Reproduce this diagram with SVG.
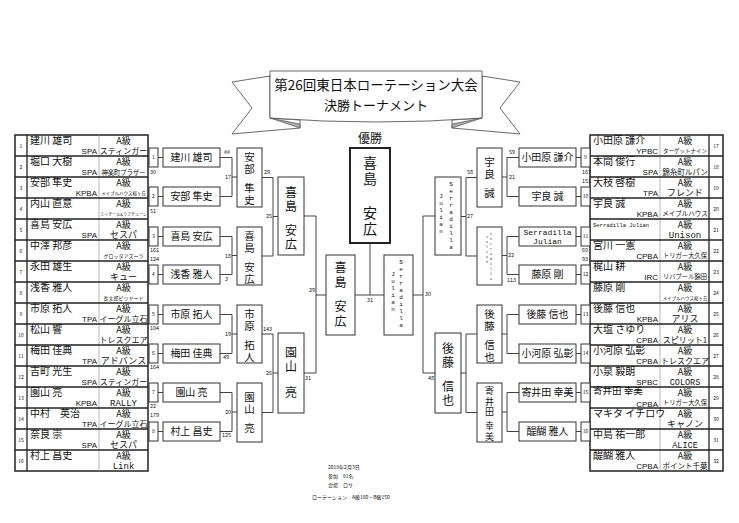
<svg xmlns="http://www.w3.org/2000/svg" width="739" height="523" viewBox="0 0 739 523">
<defs>
<style>
text{font-family:"Noto Sans CJK JP","Liberation Sans",sans-serif;fill:#111}
.nm{font-size:10px}
.cl{font-size:9px;text-anchor:middle}
.af{font-size:8px;text-anchor:end;font-family:"Liberation Sans Narrow","Liberation Sans",sans-serif}
.no{font-size:5px;text-anchor:middle}
.lb{font-size:5.5px}
.le{font-size:5.5px;text-anchor:end}
.bx{fill:#fff;stroke:#333;stroke-width:1}
.ln{stroke:#444;stroke-width:1;fill:none}
.tb{fill:#fff;stroke:#222;stroke-width:1.5}
.th{stroke:#222;stroke-width:1.3}
.tg{stroke:#999;stroke-width:0.7}
.r1{font-size:10px;text-anchor:middle}
.v{font-size:10.5px;text-anchor:middle}
.v3{font-size:12px;text-anchor:middle}
.mono{font-family:"Liberation Mono",monospace}
</style>
</defs>
<rect width="739" height="523" fill="#fff"/>

<g id="title">
<polygon points="270,76 232,82 252,108 232,134 300,128 300,120 270,118" fill="#fff" stroke="#444" stroke-width="0.8"/>
<polygon points="482,76 520,82 500,108 520,134 452,128 452,120 482,118" fill="#fff" stroke="#444" stroke-width="0.8"/>
<polygon points="270,118 300,124 300,128" fill="#aaa" stroke="#444" stroke-width="0.6"/>
<polygon points="482,118 452,124 452,128" fill="#aaa" stroke="#444" stroke-width="0.6"/>
<path d="M270,71 L482,71 L482,118 Q376,126 270,118 Z" fill="#fff" stroke="#444" stroke-width="0.8"/>
<text x="376" y="90" font-size="13.5" text-anchor="middle">第26回東日本ローテーション大会</text>
<text x="376" y="110" font-size="13" text-anchor="middle">決勝トーナメント</text>
<text x="370" y="143" font-size="12" text-anchor="middle">優勝</text>
</g>

<g id="left-table">
<rect x="15" y="135" width="133" height="336" class="tb"/>
<line x1="27" y1="135" x2="27" y2="471" class="th"/>
<line x1="99" y1="135" x2="99" y2="471" class="tg"/>
<g class="th">
<line x1="15" y1="156" x2="148" y2="156"/><line x1="15" y1="177" x2="148" y2="177"/><line x1="15" y1="198" x2="148" y2="198"/><line x1="15" y1="219" x2="148" y2="219"/>
<line x1="15" y1="240" x2="148" y2="240"/><line x1="15" y1="261" x2="148" y2="261"/><line x1="15" y1="282" x2="148" y2="282"/><line x1="15" y1="303" x2="148" y2="303"/>
<line x1="15" y1="324" x2="148" y2="324"/><line x1="15" y1="345" x2="148" y2="345"/><line x1="15" y1="366" x2="148" y2="366"/><line x1="15" y1="387" x2="148" y2="387"/>
<line x1="15" y1="408" x2="148" y2="408"/><line x1="15" y1="429" x2="148" y2="429"/><line x1="15" y1="450" x2="148" y2="450"/>
</g>
<g id="p1"><text x="21" y="148" class="no">1</text><text x="30" y="144" class="nm">建川 雄司</text><text x="123.5" y="144" class="cl">A級</text><text x="97" y="154" class="af">SPA</text><text x="123.5" y="154" font-size="8" text-anchor="middle">スティンガー</text></g>
<g id="p2"><text x="21" y="169" class="no">2</text><text x="30" y="165" class="nm">堀口 大樹</text><text x="123.5" y="165" class="cl">A級</text><text x="97" y="175" class="af">SPA</text><text x="123.5" y="175" font-size="6.3" text-anchor="middle">神楽町プラザー</text></g>
<g id="p3"><text x="21" y="190" class="no">3</text><text x="30" y="186" class="nm">安部 隼史</text><text x="123.5" y="186" class="cl">A級</text><text x="97" y="196" class="af">KPBA</text><text x="123.5" y="195" font-size="4.5" text-anchor="middle">メイプルハウス桜ヶ丘</text></g>
<g id="p4"><text x="21" y="211" class="no">4</text><text x="30" y="207" class="nm">内山 直意</text><text x="123.5" y="207" class="cl">A級</text><text x="123.5" y="216" font-size="4" text-anchor="middle">エッチール&amp;ラブチューン</text></g>
<g id="p5"><text x="21" y="232" class="no">5</text><text x="30" y="228" class="nm">喜島 安広</text><text x="123.5" y="228" class="cl">A級</text><text x="97" y="238" class="af">SPA</text><text x="123.5" y="238" font-size="9" text-anchor="middle">セスパ</text></g>
<g id="p6"><text x="21" y="253" class="no">6</text><text x="30" y="249" class="nm">中澤 邦彦</text><text x="123.5" y="249" class="cl">A級</text><text x="123.5" y="258" font-size="5" text-anchor="middle">グロッタアズーラ</text></g>
<g id="p7"><text x="21" y="274" class="no">7</text><text x="30" y="270" class="nm">永田 雄生</text><text x="123.5" y="270" class="cl">A級</text><text x="123.5" y="280" font-size="9" text-anchor="middle">キュー</text></g>
<g id="p8"><text x="21" y="295" class="no">8</text><text x="30" y="291" class="nm">浅香 雅人</text><text x="123.5" y="291" class="cl">A級</text><text x="123.5" y="300" font-size="5" text-anchor="middle">長太郎ビリヤード</text></g>
<g id="p9"><text x="21" y="316" class="no">9</text><text x="30" y="312" class="nm">市原 拓人</text><text x="123.5" y="312" class="cl">A級</text><text x="97" y="322" class="af">TPA</text><text x="123.5" y="322" font-size="8" text-anchor="middle">イーグル立石</text></g>
<g id="p10"><text x="21" y="337" class="no">10</text><text x="30" y="333" class="nm">松山 響</text><text x="123.5" y="333" class="cl">A級</text><text x="123.5" y="343" font-size="8" text-anchor="middle">トレスクエア</text></g>
<g id="p11"><text x="21" y="358" class="no">11</text><text x="30" y="354" class="nm">梅田 佳典</text><text x="123.5" y="354" class="cl">A級</text><text x="97" y="364" class="af">TPA</text><text x="123.5" y="364" font-size="9" text-anchor="middle">アドバンス</text></g>
<g id="p12"><text x="21" y="379" class="no">12</text><text x="30" y="375" class="nm">吉町 光生</text><text x="123.5" y="375" class="cl">A級</text><text x="97" y="385" class="af">SPA</text><text x="123.5" y="385" font-size="8" text-anchor="middle">スティンガー</text></g>
<g id="p13"><text x="21" y="400" class="no">13</text><text x="30" y="396" class="nm">園山 亮</text><text x="123.5" y="396" class="cl">A級</text><text x="97" y="406" class="af">KPBA</text><text x="123.5" y="406" font-size="9" text-anchor="middle" class="mono">RALLY</text></g>
<g id="p14"><text x="21" y="421" class="no">14</text><text x="30" y="417" class="nm">中村　英治</text><text x="123.5" y="417" class="cl">A級</text><text x="97" y="427" class="af">TPA</text><text x="123.5" y="427" font-size="8" text-anchor="middle">イーグル立石</text></g>
<g id="p15"><text x="21" y="442" class="no">15</text><text x="30" y="438" class="nm">奈良 崇</text><text x="123.5" y="438" class="cl">A級</text><text x="97" y="448" class="af">SPA</text><text x="123.5" y="448" font-size="9" text-anchor="middle">セスパ</text></g>
<g id="p16"><text x="21" y="463" class="no">16</text><text x="30" y="459" class="nm">村上 昌史</text><text x="123.5" y="459" class="cl">A級</text><text x="123.5" y="469" font-size="9" text-anchor="middle" class="mono">Link</text></g>
</g>

<g id="right-table">
<rect x="590" y="135" width="133" height="336" class="tb"/>
<line x1="709" y1="135" x2="709" y2="471" class="th"/>
<line x1="660" y1="135" x2="660" y2="471" class="tg"/>
<g class="th">
<line x1="590" y1="156" x2="723" y2="156"/><line x1="590" y1="177" x2="723" y2="177"/><line x1="590" y1="198" x2="723" y2="198"/><line x1="590" y1="219" x2="723" y2="219"/>
<line x1="590" y1="240" x2="723" y2="240"/><line x1="590" y1="261" x2="723" y2="261"/><line x1="590" y1="282" x2="723" y2="282"/><line x1="590" y1="303" x2="723" y2="303"/>
<line x1="590" y1="324" x2="723" y2="324"/><line x1="590" y1="345" x2="723" y2="345"/><line x1="590" y1="366" x2="723" y2="366"/><line x1="590" y1="387" x2="723" y2="387"/>
<line x1="590" y1="408" x2="723" y2="408"/><line x1="590" y1="429" x2="723" y2="429"/><line x1="590" y1="450" x2="723" y2="450"/>
</g>
<g id="p17"><text x="716" y="148" class="no">17</text><text x="593" y="144" class="nm">小田原 謙介</text><text x="685" y="144" class="cl">A級</text><text x="658" y="154" class="af">YPBC</text><text x="685" y="153" font-size="5.5" text-anchor="middle">ターゲットナイン</text></g>
<g id="p18"><text x="716" y="169" class="no">18</text><text x="593" y="165" class="nm">本間 俊行</text><text x="685" y="165" class="cl">A級</text><text x="658" y="175" class="af">SPA</text><text x="685" y="175" font-size="7.5" text-anchor="middle">錦糸町ルパン</text></g>
<g id="p19"><text x="716" y="190" class="no">19</text><text x="593" y="186" class="nm">大枝 啓樹</text><text x="685" y="186" class="cl">A級</text><text x="658" y="196" class="af">TPA</text><text x="685" y="196" font-size="9" text-anchor="middle">フレンド</text></g>
<g id="p20"><text x="716" y="211" class="no">20</text><text x="593" y="207" class="nm">宇良 誠</text><text x="685" y="207" class="cl">A級</text><text x="658" y="217" class="af">KPBA</text><text x="685" y="216" font-size="6.5" text-anchor="middle">メイプルハウス</text></g>
<g id="p21"><text x="716" y="232" class="no">21</text><text x="593" y="227" font-size="5.5" class="mono">Serradilla Julian</text><text x="685" y="228" class="cl">A級</text><text x="685" y="238" font-size="9" text-anchor="middle" class="mono">Unison</text></g>
<g id="p22"><text x="716" y="253" class="no">22</text><text x="593" y="249" class="nm">宮川 一憲</text><text x="685" y="249" class="cl">A級</text><text x="658" y="259" class="af">CPBA</text><text x="685" y="258" font-size="6.3" text-anchor="middle">トリガー大久保</text></g>
<g id="p23"><text x="716" y="274" class="no">23</text><text x="593" y="270" class="nm">梶山 耕</text><text x="685" y="270" class="cl">A級</text><text x="658" y="280" class="af">IRC</text><text x="685" y="279" font-size="6.3" text-anchor="middle">リバプール錦田</text></g>
<g id="p24"><text x="716" y="295" class="no">24</text><text x="593" y="291" class="nm">藤原 剛</text><text x="685" y="291" class="cl">A級</text><text x="685" y="300" font-size="4.5" text-anchor="middle">メイプルハウス桜ヶ丘</text></g>
<g id="p25"><text x="716" y="316" class="no">25</text><text x="593" y="312" class="nm">後藤 信也</text><text x="685" y="312" class="cl">A級</text><text x="658" y="322" class="af">KPBA</text><text x="685" y="322" font-size="9" text-anchor="middle">アリス</text></g>
<g id="p26"><text x="716" y="337" class="no">26</text><text x="593" y="333" class="nm">大塩 さゆり</text><text x="685" y="333" class="cl">A級</text><text x="658" y="343" class="af">CPBA</text><text x="685" y="343" font-size="8" text-anchor="middle">スピリット1</text></g>
<g id="p27"><text x="716" y="358" class="no">27</text><text x="593" y="354" class="nm">小河原 弘彰</text><text x="685" y="354" class="cl">A級</text><text x="658" y="364" class="af">CPBA</text><text x="685" y="364" font-size="8" text-anchor="middle">トレスクエア</text></g>
<g id="p28"><text x="716" y="379" class="no">28</text><text x="593" y="375" class="nm">小泉 毅朗</text><text x="685" y="375" class="cl">A級</text><text x="658" y="385" class="af">SPBC</text><text x="685" y="385" font-size="8.5" text-anchor="middle" class="mono">COLORS</text></g>
<g id="p29"><text x="716" y="400" class="no">29</text><text x="593" y="394" font-size="9.5">寄井田 幸美</text><text x="685" y="396" class="cl">A級</text><text x="658" y="406.5" class="af">CPBA</text><text x="685" y="405" font-size="6.3" text-anchor="middle">トリガー大久保</text></g>
<g id="p30"><text x="716" y="421" class="no">30</text><text x="593" y="417" class="nm">マキタ イチロウ</text><text x="685" y="417" class="cl">A級</text><text x="685" y="427" font-size="9" text-anchor="middle">キャノン</text></g>
<g id="p31"><text x="716" y="442" class="no">31</text><text x="593" y="438" class="nm">中島 祐一郎</text><text x="685" y="438" class="cl">A級</text><text x="685" y="448" font-size="8.5" text-anchor="middle" class="mono">ALICE</text></g>
<g id="p32"><text x="716" y="463" class="no">32</text><text x="593" y="459" class="nm">醍醐 雅人</text><text x="685" y="459" class="cl">A級</text><text x="658" y="469" class="af">CPBA</text><text x="685" y="469" font-size="7.5" text-anchor="middle">ポイント千葉</text></g>
</g>

<g id="connectors" class="ln">
<path d="M158,157.5H163M158,196.5H163M158,236.5H163M158,274.5H163M158,314.5H163M158,353.5H163M158,392.5H163M158,431.5H163"/>
<path d="M220,157.5H232V196.5H220M232,177H237M220,236.5H232V274.5H220M232,255.5H237M220,314.5H232V353.5H220M232,334H237M220,392.5H232V431.5H220M232,412H237"/>
<path d="M262,177.5H273V256H262M273,216.5H278M262,334H273V412.5H262M273,373H278"/>
<path d="M304,216H316V373H304M316,295H326"/>
<path d="M581,157.5H576M581,196.5H576M581,236.5H576M581,274.5H576M581,314.5H576M581,353.5H576M581,392.5H576M581,431.5H576"/>
<path d="M519,157.5H507V196.5H519M507,177H502M519,236.5H507V274.5H519M507,255.5H502M519,314.5H507V353.5H519M507,334H502M519,392.5H507V431.5H519M507,412H502"/>
<path d="M477,177.5H466V256H477M466,216.5H461M477,334H466V412.5H477M466,373H461"/>
<path d="M435,216H423V373H435M423,295H413"/>
<path d="M355,295H384M370,243V295"/>
</g>

<g id="match-numbers">
<rect x="149" y="148" width="9" height="19" class="bx"/><text x="153.5" y="159" class="no">1</text>
<rect x="149" y="187" width="9" height="19" class="bx"/><text x="153.5" y="198" class="no">2</text>
<rect x="149" y="227" width="9" height="19" class="bx"/><text x="153.5" y="238" class="no">3</text>
<rect x="149" y="265" width="9" height="19" class="bx"/><text x="153.5" y="276" class="no">4</text>
<rect x="149" y="305" width="9" height="19" class="bx"/><text x="153.5" y="316" class="no">5</text>
<rect x="149" y="344" width="9" height="19" class="bx"/><text x="153.5" y="355" class="no">6</text>
<rect x="149" y="383" width="9" height="19" class="bx"/><text x="153.5" y="394" class="no">7</text>
<rect x="149" y="422" width="9" height="19" class="bx"/><text x="153.5" y="433" class="no">8</text>
<rect x="581" y="148" width="9" height="19" class="bx"/><text x="585.5" y="159" class="no">9</text>
<rect x="581" y="187" width="9" height="19" class="bx"/><text x="585.5" y="198" class="no">10</text>
<rect x="581" y="227" width="9" height="19" class="bx"/><text x="585.5" y="238" class="no">11</text>
<rect x="581" y="265" width="9" height="19" class="bx"/><text x="585.5" y="276" class="no">12</text>
<rect x="581" y="305" width="9" height="19" class="bx"/><text x="585.5" y="316" class="no">13</text>
<rect x="581" y="344" width="9" height="19" class="bx"/><text x="585.5" y="355" class="no">14</text>
<rect x="581" y="383" width="9" height="19" class="bx"/><text x="585.5" y="394" class="no">15</text>
<rect x="581" y="422" width="9" height="19" class="bx"/><text x="585.5" y="433" class="no">16</text>
</g>

<g id="scores">
<text x="150" y="174" class="lb">30</text><text x="150" y="213" class="lb">51</text><text x="150" y="252" class="lb">161</text><text x="150" y="261" class="lb">124</text>
<text x="150" y="330" class="lb">104</text><text x="150" y="369" class="lb">164</text><text x="150" y="408" class="lb">22</text><text x="150" y="417" class="lb">179</text>
<text x="582" y="174" class="lb">167</text><text x="582" y="183" class="lb">151</text><text x="582" y="252" class="lb">60</text><text x="582" y="261" class="lb">93</text>
<text x="224" y="154" class="lb">##</text><text x="231" y="179" class="le">17</text><text x="231" y="258" class="le">18</text><text x="225" y="281" class="lb">3</text>
<text x="231" y="336" class="le">19</text><text x="223" y="359" class="lb">49</text><text x="231" y="414" class="le">20</text><text x="222" y="437" class="lb">125</text>
<text x="264" y="174" class="lb">29</text><text x="272" y="218" class="le">25</text><text x="263" y="331" class="lb">143</text><text x="272" y="375" class="le">26</text>
<text x="315" y="292" class="le">29</text><text x="305" y="380" class="lb">31</text>
<text x="509" y="154" class="lb">59</text><text x="509" y="179" class="lb">21</text><text x="508" y="257" class="lb">22</text><text x="507" y="282" class="lb">113</text>
<text x="467" y="174" class="lb">58</text><text x="467" y="218" class="lb">27</text>
<text x="425" y="296" class="lb">30</text><text x="370" y="302" class="lb" text-anchor="middle">31</text>
<text x="428" y="380" class="lb">48</text>
</g>

<g id="r1-left">
<g id="m1"><rect x="163" y="148" width="57" height="19" class="bx"/><text x="191.5" y="161" class="r1">建川 雄司</text></g>
<g id="m2"><rect x="163" y="187" width="57" height="19" class="bx"/><text x="191.5" y="200" class="r1">安部 隼史</text></g>
<g id="m3"><rect x="163" y="227" width="57" height="19" class="bx"/><text x="191.5" y="240" class="r1">喜島 安広</text></g>
<g id="m4"><rect x="163" y="265" width="57" height="19" class="bx"/><text x="191.5" y="278" class="r1">浅香 雅人</text></g>
<g id="m5"><rect x="163" y="305" width="57" height="19" class="bx"/><text x="191.5" y="318" class="r1">市原 拓人</text></g>
<g id="m6"><rect x="163" y="344" width="57" height="19" class="bx"/><text x="191.5" y="357" class="r1">梅田 佳典</text></g>
<g id="m7"><rect x="163" y="383" width="57" height="19" class="bx"/><text x="191.5" y="396" class="r1">園山 亮</text></g>
<g id="m8"><rect x="163" y="422" width="57" height="19" class="bx"/><text x="191.5" y="435" class="r1">村上 昌史</text></g>
</g>

<g id="r1-right">
<g id="m9"><rect x="519" y="148" width="57" height="19" class="bx"/><text x="547.5" y="161" class="r1">小田原 謙介</text></g>
<g id="m10"><rect x="519" y="187" width="57" height="19" class="bx"/><text x="547.5" y="200" class="r1">宇良 誠</text></g>
<g id="m11"><rect x="519" y="227" width="57" height="19" class="bx"/><text x="547.5" y="235" font-size="8" text-anchor="middle" class="mono">Serradilla</text><text x="547.5" y="244" font-size="8" text-anchor="middle" class="mono">Julian</text></g>
<g id="m12"><rect x="519" y="265" width="57" height="19" class="bx"/><text x="547.5" y="278" class="r1">藤原 剛</text></g>
<g id="m13"><rect x="519" y="305" width="57" height="19" class="bx"/><text x="547.5" y="318" class="r1">後藤 信也</text></g>
<g id="m14"><rect x="519" y="344" width="57" height="19" class="bx"/><text x="547.5" y="357" class="r1">小河原 弘彰</text></g>
<g id="m15"><rect x="519" y="383" width="57" height="19" class="bx"/><text x="547.5" y="396" class="r1">寄井田 幸美</text></g>
<g id="m16"><rect x="519" y="422" width="57" height="19" class="bx"/><text x="547.5" y="435" class="r1">醍醐 雅人</text></g>
</g>

<g id="r2-left">
<g id="m17"><rect x="237" y="148" width="25" height="59" class="bx"/><text class="v"><tspan x="249.5" y="161">安</tspan><tspan x="249.5" y="173">部</tspan><tspan x="249.5" y="192">隼</tspan><tspan x="249.5" y="204">史</tspan></text></g>
<g id="m18"><rect x="237" y="227" width="25" height="58" class="bx"/><text class="v"><tspan x="249.5" y="240">喜</tspan><tspan x="249.5" y="252">島</tspan><tspan x="249.5" y="271">安</tspan><tspan x="249.5" y="283">広</tspan></text></g>
<g id="m19"><rect x="237" y="305" width="25" height="58" class="bx"/><text class="v"><tspan x="249.5" y="318">市</tspan><tspan x="249.5" y="330">原</tspan><tspan x="249.5" y="349">拓</tspan><tspan x="249.5" y="361">人</tspan></text></g>
<g id="m20"><rect x="237" y="383" width="25" height="59" class="bx"/><text class="v"><tspan x="249.5" y="401">園</tspan><tspan x="249.5" y="413">山</tspan><tspan x="249.5" y="432">亮</tspan></text></g>
</g>

<g id="r2-right">
<g id="m21"><rect x="477" y="148" width="25" height="59" class="bx"/><text class="v"><tspan x="489.5" y="166">宇</tspan><tspan x="489.5" y="178">良</tspan><tspan x="489.5" y="197">誠</tspan></text></g>
<g id="m22"><rect x="477" y="227" width="25" height="58" class="bx"/>
<text font-size="3.2" text-anchor="middle" class="mono"><tspan x="491" y="235">S</tspan><tspan x="491" y="240">e</tspan><tspan x="491" y="245">r</tspan><tspan x="491" y="250">r</tspan><tspan x="491" y="255">a</tspan><tspan x="491" y="260">d</tspan><tspan x="491" y="265">i</tspan><tspan x="491" y="270">l</tspan><tspan x="491" y="275">l</tspan><tspan x="491" y="280">a</tspan></text>
<text font-size="3.2" text-anchor="middle" class="mono"><tspan x="487" y="238">J</tspan><tspan x="487" y="243">u</tspan><tspan x="487" y="248">l</tspan><tspan x="487" y="253">i</tspan><tspan x="487" y="258">a</tspan><tspan x="487" y="263">n</tspan></text></g>
<g id="m23"><rect x="477" y="305" width="25" height="58" class="bx"/><text class="v"><tspan x="489.5" y="318">後</tspan><tspan x="489.5" y="330">藤</tspan><tspan x="489.5" y="349">信</tspan><tspan x="489.5" y="361">也</tspan></text></g>
<g id="m24"><rect x="477" y="383" width="25" height="59" class="bx"/><text font-size="9" text-anchor="middle"><tspan x="489.5" y="394">寄</tspan><tspan x="489.5" y="404.5">井</tspan><tspan x="489.5" y="415">田</tspan><tspan x="489.5" y="429">幸</tspan><tspan x="489.5" y="439.5">美</tspan></text></g>
</g>

<g id="r3-left">
<g id="m25"><rect x="278" y="177" width="26" height="78" class="bx"/><text class="v3"><tspan x="291" y="197">喜</tspan><tspan x="291" y="211">島</tspan><tspan x="291" y="235">安</tspan><tspan x="291" y="249">広</tspan></text></g>
<g id="m26"><rect x="278" y="333" width="26" height="80" class="bx"/><text class="v3"><tspan x="291" y="357">園</tspan><tspan x="291" y="371">山</tspan><tspan x="291" y="397">亮</tspan></text></g>
</g>

<g id="r3-right">
<g id="m27"><rect x="435" y="177" width="26" height="78" class="bx"/>
<text font-size="6" text-anchor="middle" class="mono"><tspan x="451" y="186">S</tspan><tspan x="451" y="193">e</tspan><tspan x="451" y="200">r</tspan><tspan x="451" y="207">r</tspan><tspan x="451" y="214">a</tspan><tspan x="451" y="221">d</tspan><tspan x="451" y="228">i</tspan><tspan x="451" y="235">l</tspan><tspan x="451" y="242">l</tspan><tspan x="451" y="249">a</tspan></text>
<text font-size="6" text-anchor="middle" class="mono"><tspan x="441" y="198">J</tspan><tspan x="441" y="205">u</tspan><tspan x="441" y="212">l</tspan><tspan x="441" y="219">i</tspan><tspan x="441" y="226">a</tspan><tspan x="441" y="233">n</tspan></text></g>
<g id="m28"><rect x="435" y="333" width="26" height="80" class="bx"/><text class="v3"><tspan x="448" y="353">後</tspan><tspan x="448" y="367">藤</tspan><tspan x="448" y="391">信</tspan><tspan x="448" y="405">也</tspan></text></g>
</g>

<g id="semis">
<g id="m29"><rect x="326" y="255" width="29" height="80" class="bx"/><text class="v3"><tspan x="340.5" y="272">喜</tspan><tspan x="340.5" y="287">島</tspan><tspan x="340.5" y="311">安</tspan><tspan x="340.5" y="326">広</tspan></text></g>
<g id="m30"><rect x="384" y="255" width="29" height="80" class="bx"/>
<text font-size="6" text-anchor="middle" class="mono"><tspan x="401" y="264">S</tspan><tspan x="401" y="271">e</tspan><tspan x="401" y="278">r</tspan><tspan x="401" y="285">r</tspan><tspan x="401" y="292">a</tspan><tspan x="401" y="299">d</tspan><tspan x="401" y="306">i</tspan><tspan x="401" y="313">l</tspan><tspan x="401" y="320">l</tspan><tspan x="401" y="327">a</tspan></text>
<text font-size="6" text-anchor="middle" class="mono"><tspan x="393" y="276">J</tspan><tspan x="393" y="283">u</tspan><tspan x="393" y="290">l</tspan><tspan x="393" y="297">i</tspan><tspan x="393" y="304">a</tspan><tspan x="393" y="311">n</tspan></text></g>
</g>

<g id="champion"><rect x="350" y="148" width="40" height="95" fill="#fff" stroke="#222" stroke-width="2"/>
<text font-size="14" text-anchor="middle"><tspan x="370" y="168">喜</tspan><tspan x="370" y="184">島</tspan><tspan x="370" y="218">安</tspan><tspan x="370" y="234">広</tspan></text></g>

<g id="info" font-size="5">
<text x="328" y="469" font-size="5">2019年2月3日</text>
<text x="328" y="478" font-size="5">参加　81名</text>
<text x="328" y="487" font-size="5">会場　ロサ</text>
<text x="312" y="499" font-size="5">ローテーション　A級180・B級150</text>
</g>
</svg>
